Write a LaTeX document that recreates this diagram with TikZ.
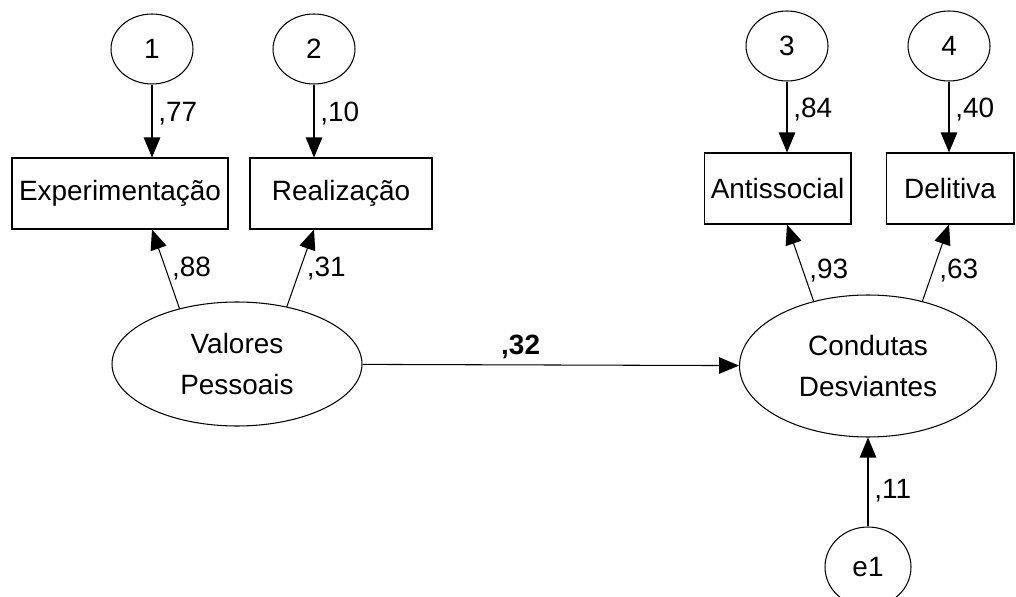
\documentclass[tikz,border=0pt]{standalone}
\usepackage{fontspec}
\setmainfont{Liberation Sans}
\usetikzlibrary{shapes.geometric,arrows.meta}

\begin{document}
\begin{tikzpicture}[x=0.02cm,y=-0.02cm,line width=0.6pt,
		font=\fontsize{15.9}{23.3}\selectfont,
		latente/.style={draw,ellipse,inner sep=0pt,minimum width=5cm,minimum height=2.48cm,align=center},
		erro/.style={draw,ellipse,inner sep=0pt,minimum width=1.64cm,minimum height=1.4cm},
		caixa/.style={draw,rectangle,inner sep=0pt,minimum height=1.42cm},
		pijl/.style={-{Triangle[length=0.4cm,width=0.33cm]}}]
			\useasboundingbox (0,0) rectangle (1016,597);
			
			\node[erro] (c1) at (152,49) {1};
			\node[erro] (c2) at (314,49) {2};
			\node[erro] (c3) at (787,46) {3};
			\node[erro] (c4) at (949,46) {4};
			
			\node[caixa,minimum width=4.32cm] (exp) at (120,193.5) {Experimentação};
			\node[caixa,minimum width=3.64cm] (rea) at (341,193.5) {Realização};
			\node[caixa,minimum width=2.94cm] (anti) at (777.5,188.5) {Antissocial};
			\node[caixa,minimum width=2.56cm] (deli) at (950,188.5) {Delitiva};
			
			\node[latente] (val) at (237,364) {Valores\\Pessoais};
			\node[latente,minimum width=5.14cm,minimum height=2.84cm] (cond) at (868,366) {Condutas\\Desviantes};
			\node[erro,minimum width=1.72cm,minimum height=1.6cm] (e1) at (868,567) {e1};
			
			\draw[pijl] (c1) -- node[right,pos=0.4] {,77} (c1 |- exp.north);
			\draw[pijl] (c2) -- node[right,pos=0.4] {,10} (c2 |- rea.north);
			\draw[pijl] (c3) -- node[right,pos=0.4] {,84} (c3 |- anti.north);
			\draw[pijl] (c4) -- node[right,pos=0.4] {,40} (c4 |- deli.north);
			
			\draw[pijl] (val.136) -- node[right] {,88} (c1 |- exp.south);
			\draw[pijl] (val.49) -- node[right] {,31} (c2 |- rea.south);
			\draw[pijl] (cond.130) -- node[right,pos=0.4] {,93} (c3 |- anti.south);
			\draw[pijl] (cond.50) -- node[right,pos=0.4] {,63} (c4 |- deli.south);
			
			\draw[pijl] (val) -- node[above,pos=0.42] {\textbf{,32}} (cond);
			\draw[pijl] (e1) -- node[right,pos=0.4] {,11} (cond);
		\end{tikzpicture}
\end{document}
